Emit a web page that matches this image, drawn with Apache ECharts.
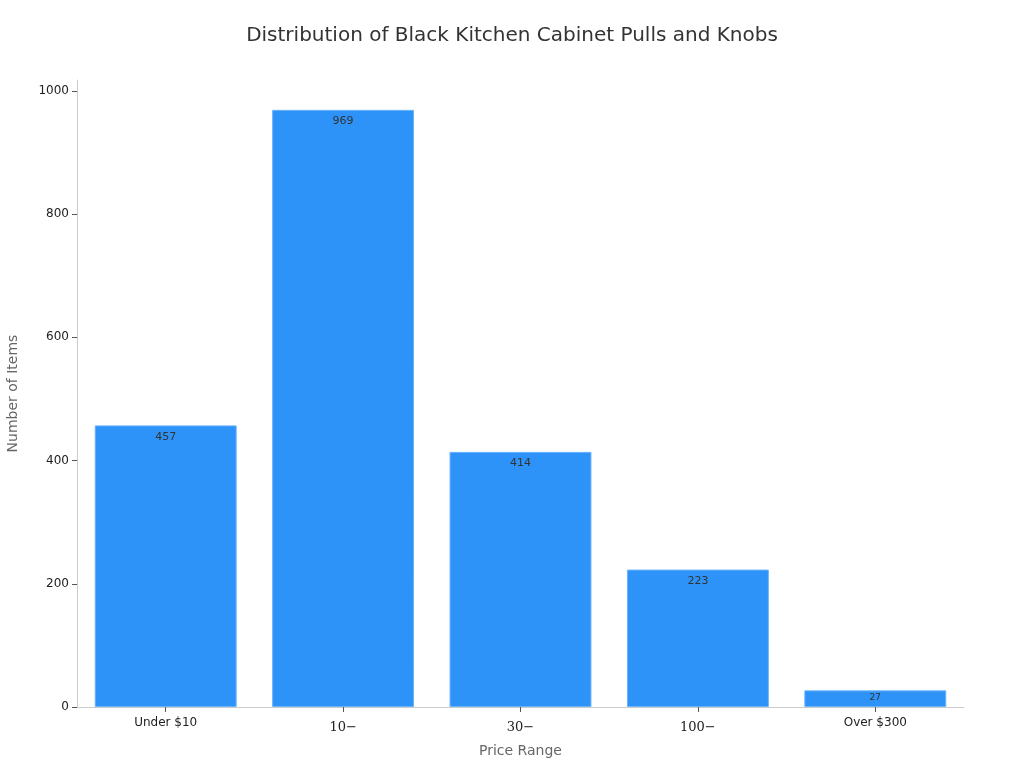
<!DOCTYPE html>
<html lang="en">
<head>
    <meta charset="UTF-8">
    <title>Distribution of Black Kitchen Cabinet Pulls and Knobs</title>
    <style>
        *{
            margin: 0;
            padding: 0;
        }
        html ,body{
            height:100%;
            width:100%;
            background: #fff;
        }
        #chart{
            width: 1024px;
            height: 768px;
        }
    </style>
</head>
<body>
<div id="chart"></div>
<script src="https://cdn.jsdelivr.net/npm/echarts@6/dist/echarts.min.js"></script>
<script>
    // data
    var categories = ['Under $10', '10\u2212', '30\u2212', '100\u2212', 'Over $300'];
    var mathLabels = [false, true, true, true, false];
    var counts = [457, 969, 414, 223, 27];
    var yTicks = [0, 200, 400, 600, 800, 1000];

    var chart = echarts.init(document.getElementById('chart'));

    var barData = [];
    for (var i = 0; i < counts.length; i++) {
        var item = { value: counts[i] };
        if (counts[i] < 50) {
            item.label = { fontSize: 9, distance: 3 };
        }
        barData.push(item);
    }

    var option = {
        animation: false,
        title: {
            text: 'Distribution of Black Kitchen Cabinet Pulls and Knobs',
            left: 'center',
            top: 21,
            textStyle: {
                fontFamily: 'DejaVu Sans',
                fontSize: 20,
                fontWeight: 'normal',
                color: '#333'
            }
        },
        grid: {
            left: 77,
            right: 60,
            top: 80,
            bottom: 61,
            containLabel: false,
            outerBoundsMode: 'none'
        },
        xAxis: {
            type: 'category',
            data: categories,
            name: 'Price Range',
            nameLocation: 'middle',
            nameGap: 37,
            nameTextStyle: {
                fontFamily: 'DejaVu Sans',
                fontSize: 14,
                color: '#666'
            },
            axisLine: { lineStyle: { color: '#ccc' } },
            axisTick: { show: true, alignWithLabel: true, length: 5, lineStyle: { color: '#555' } },
            axisLabel: {
                margin: 10,
                formatter: function (v, idx) {
                    return mathLabels[idx] ? '{m|' + v + '}' : '{s|' + v + '}';
                },
                rich: {
                    s: { fontFamily: 'DejaVu Sans', fontSize: 12, color: '#222' },
                    m: { fontFamily: 'DejaVu Serif', fontSize: 13, color: '#222', padding: [4, 0, 0, 0] }
                }
            }
        },
        yAxis: {
            type: 'value',
            min: yTicks[0],
            max: 1017.45,
            interval: 200,
            name: 'Number of Items',
            nameLocation: 'middle',
            nameGap: 57,
            nameTextStyle: {
                fontFamily: 'DejaVu Sans',
                fontSize: 14,
                color: '#666'
            },
            axisLine: { show: true, lineStyle: { color: '#ccc' } },
            axisTick: { show: true, length: 5, customValues: yTicks, lineStyle: { color: '#555' } },
            splitLine: { show: false },
            axisLabel: {
                fontFamily: 'DejaVu Sans',
                fontSize: 12,
                color: '#222',
                margin: 8,
                customValues: yTicks,
                formatter: function (v) {
                    return String(v);
                }
            }
        },
        series: [{
            type: 'bar',
            data: barData,
            barCategoryGap: '20%',
            itemStyle: {
                color: '#2e93f9',
                borderColor: '#6ab4fb',
                borderWidth: 1
            },
            label: {
                show: true,
                position: 'insideTop',
                distance: 6,
                fontFamily: 'DejaVu Sans',
                fontSize: 11,
                color: '#333'
            }
        }]
    };

    chart.setOption(option);
    window.onresize = function () {
        chart.resize();
    };
</script>
</body>
</html>
